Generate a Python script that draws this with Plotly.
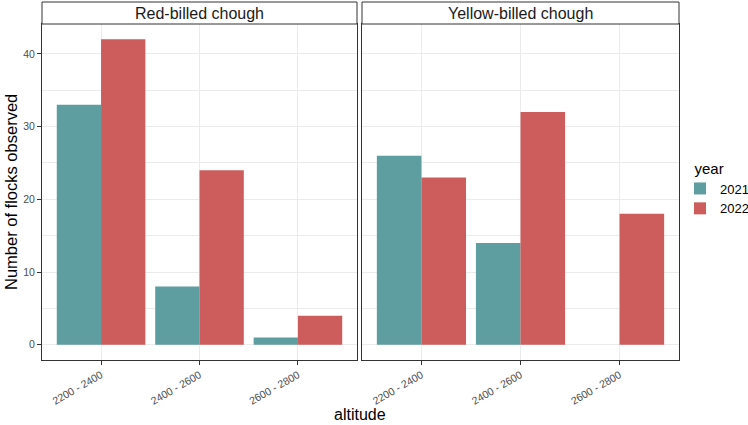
import plotly.graph_objects as go

altitudes = ["2200 - 2400", "2400 - 2600", "2600 - 2800"]
species = ["Red-billed chough", "Yellow-billed chough"]
years = ["2021", "2022"]
red_billed_2021 = [33, 8, 1]
red_billed_2022 = [42, 24, 4]
yellow_billed_2021 = [26, 14, 0]
yellow_billed_2022 = [23, 32, 18]
y_ticks = [0, 10, 20, 30, 40]

colors = {"2021": "#5F9EA0", "2022": "#CD5C5C"}
data = {
    ("Red-billed chough", "2021"): red_billed_2021,
    ("Red-billed chough", "2022"): red_billed_2022,
    ("Yellow-billed chough", "2021"): yellow_billed_2021,
    ("Yellow-billed chough", "2022"): yellow_billed_2022,
}

FONT = "Liberation Sans, Arial, sans-serif"
fig = go.Figure()
for i, sp in enumerate(species):
    xa = "x" if i == 0 else "x2"
    ya = "y" if i == 0 else "y2"
    for yr in years:
        fig.add_trace(go.Bar(
            x=altitudes, y=data[(sp, yr)], name=yr,
            marker=dict(color=colors[yr], line=dict(width=0)),
            xaxis=xa, yaxis=ya, showlegend=(i == 0),
            offsetgroup=yr, legendgroup=yr,
        ))

W, H = 748, 425
ml, mr, mt, mb = 42, 0, 2, 65
PW = W - ml - mr
PH = H - mt - mb
def px_x(p):
    return (p - ml) / PW
def px_y(p):
    return (H - mb - p) / PH

panel_top = px_y(24)
left_dom = [px_x(42), px_x(357)]
right_dom = [px_x(362), px_x(679)]

axis_common = dict(
    showline=True, mirror=True, linecolor="#333333", linewidth=1,
    gridcolor="#EBEBEB", gridwidth=1, zeroline=False, automargin=False,
    ticks="outside", ticklen=4, tickcolor="#333333", tickwidth=1,
    tickfont=dict(family=FONT, size=10.5, color="#4D4D4D"),
)
xcommon = dict(axis_common, type="category", range=[-0.6, 2.6], tickangle=-30,
               categoryorder="array", categoryarray=altitudes)
ycommon = dict(axis_common, range=[-2.1, 44.1], tickvals=y_ticks,
               minor=dict(dtick=5, tick0=0, showgrid=True, gridcolor="#EBEBEB",
                          gridwidth=0.5, ticks=""),
               domain=[0, panel_top])

fig.update_layout(
    width=W, height=H,
    margin=dict(l=ml, r=mr, t=mt, b=mb, autoexpand=False),
    paper_bgcolor="white", plot_bgcolor="white",
    barmode="group", bargap=0.1, bargroupgap=0,
    xaxis=dict(xcommon, domain=left_dom, anchor="y"),
    xaxis2=dict(xcommon, domain=right_dom, anchor="y2"),
    yaxis=dict(ycommon, anchor="x"),
    yaxis2=dict(ycommon, anchor="x2", showticklabels=False, ticks=""),
    legend=dict(
        title=dict(text="&nbsp;&nbsp;&nbsp;year",
                   font=dict(family=FONT, size=15, color="black")),
        font=dict(family=FONT, size=13, color="black"),
        x=px_x(680), xanchor="left", y=px_y(154), yanchor="top",
        bgcolor="rgba(0,0,0,0)", tracegroupgap=0, itemsizing="constant",
        itemwidth=30,
    ),
    font=dict(family=FONT),
)

# facet strips
for i, sp in enumerate(species):
    xr = "x domain" if i == 0 else "x2 domain"
    fig.add_shape(type="rect", xref=xr, yref="paper", x0=0, x1=1,
                  y0=panel_top, y1=1, fillcolor="white",
                  line=dict(color="#333333", width=1))
    fig.add_annotation(xref=xr, yref="paper", x=0.5, y=(panel_top + 1) / 2,
                       text=sp, showarrow=False, yanchor="middle",
                       font=dict(family=FONT, size=16, color="#1A1A1A"))

fig.add_annotation(xref="paper", yref="paper", x=px_x(360), y=px_y(414),
                   text="altitude", showarrow=False, yanchor="middle",
                   font=dict(family=FONT, size=16, color="black"))
fig.add_annotation(xref="paper", yref="paper", x=px_x(11), y=px_y(192),
                   text="Number of flocks observed", showarrow=False,
                   textangle=-90, xanchor="center", yanchor="middle",
                   font=dict(family=FONT, size=16.5, color="black"))

fig.write_html("out.html", config={"displayModeBar": False},
               post_script="document.body.style.margin='0';document.body.style.padding='0';")
